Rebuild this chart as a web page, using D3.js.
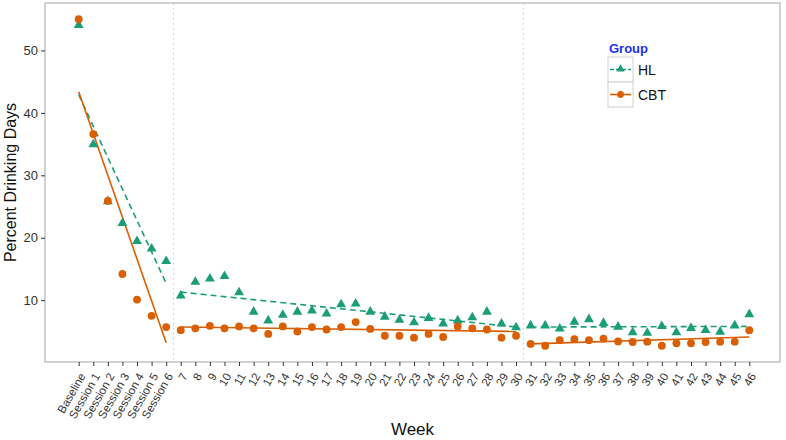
<!DOCTYPE html>
<html>
<head>
<meta charset="UTF-8">
<title>Percent Drinking Days</title>
<script src="https://cdn.jsdelivr.net/npm/d3@7"></script>
<style>
body { margin: 0; background: #fff; }
svg { font-family: "Liberation Sans", Arial, sans-serif; }
</style>
</head>
<body>
<script>
// x categories: baseline, six sessions, then weeks 7..46
var weeks = ["Baseline", "Session 1", "Session 2", "Session 3", "Session 4", "Session 5", "Session 6",
  "7", "8", "9", "10", "11", "12", "13", "14", "15", "16", "17", "18", "19", "20",
  "21", "22", "23", "24", "25", "26", "27", "28", "29", "30",
  "31", "32", "33", "34", "35", "36", "37", "38", "39", "40", "41", "42", "43", "44", "45", "46"];

var hlValues = [54.2, 35.1, 26.0, 22.5, 19.6, 18.4, 16.4,
  10.9, 13.1, 13.6, 14.0, 11.4, 8.3, 6.9, 7.8, 8.3, 8.5, 8.0, 9.5, 9.6, 8.3,
  7.5, 7.0, 6.6, 7.3, 6.4, 6.9, 7.4, 8.3, 6.4, 5.8,
  6.1, 6.1, 5.6, 6.7, 7.1, 6.5, 5.9, 5.0, 4.9, 6.0, 5.0, 5.7, 5.35, 5.1, 6.1, 7.9];

var cbtValues = [55.0, 36.6, 25.9, 14.2, 10.1, 7.5, 5.7,
  5.2, 5.5, 5.9, 5.5, 5.8, 5.5, 4.6, 5.8, 5.0, 5.7, 5.3, 5.7, 6.5, 5.4,
  4.3, 4.3, 4.0, 4.6, 4.1, 5.8, 5.5, 5.3, 4.0, 4.3,
  3.0, 2.7, 3.6, 3.75, 3.6, 3.85, 3.4, 3.3, 3.35, 2.7, 3.1, 3.1, 3.3, 3.35, 3.35, 5.2];

// fitted lines per phase: [first category, last category, start value, end value]
var hlFit = [["Baseline", "Session 6", 42.9, 12.7], ["7", "30", 11.3, 5.7], ["31", "46", 5.7, 5.8]];
var cbtFit = [["Baseline", "Session 6", 43.4, 3.2], ["7", "30", 5.7, 5.0], ["31", "46", 3.0, 4.1]];

// phase breaks sit between these category pairs
var breaks = [["Session 6", "7"], ["30", "31"]];

var yTicks = [10, 20, 30, 40, 50];

var groups = [
  {name: "HL", values: hlValues, fit: hlFit, color: "#1b9e77", dash: "6,4", shape: d3.symbolTriangle},
  {name: "CBT", values: cbtValues, fit: cbtFit, color: "#d95f02", dash: null, shape: d3.symbolCircle}
];

var width = 786, height = 440;
var panelLeft = 45, panelRight = 780, panelTop = 3, panelBottom = 362;

var svg = d3.select("body").append("svg")
    .attr("width", width)
    .attr("height", height);

var x = d3.scalePoint()
    .domain(weeks)
    .range([78.7, 749.3]);

var y = d3.scaleLinear()
    .domain([0.1, 57.6])
    .range([panelBottom, panelTop]);

// phase separators
breaks.forEach(function (b) {
  var bx = (x(b[0]) + x(b[1])) / 2;
  svg.append("line")
      .attr("x1", bx).attr("x2", bx)
      .attr("y1", panelTop).attr("y2", panelBottom)
      .attr("stroke", "#c8c8c8")
      .attr("stroke-width", 1)
      .attr("stroke-dasharray", "1.5,3.5");
});

// fitted lines
groups.forEach(function (g) {
  g.fit.forEach(function (f) {
    svg.append("line")
        .attr("x1", x(f[0])).attr("y1", y(f[2]))
        .attr("x2", x(f[1])).attr("y2", y(f[3]))
        .attr("stroke", g.color)
        .attr("stroke-width", 1.6)
        .attr("stroke-dasharray", g.dash);
  });
});

// points
groups.forEach(function (g) {
  var sym = d3.symbol().type(g.shape).size(g.name == "HL" ? 42 : 48);
  svg.append("g").selectAll("path")
      .data(g.values)
      .enter()
      .append("path")
      .attr("d", sym)
      .attr("transform", function (d, i) {
        var dy = g.name == "HL" ? 1 : 0;
        return "translate(" + x(weeks[i]) + "," + (y(d) + dy) + ")";
      })
      .attr("fill", g.color);
});

// panel border
svg.append("rect")
    .attr("x", panelLeft).attr("y", panelTop)
    .attr("width", panelRight - panelLeft).attr("height", panelBottom - panelTop)
    .attr("fill", "none")
    .attr("stroke", "#b3b3b3")
    .attr("stroke-width", 1.2);

// y axis
var yAxis = svg.append("g")
    .attr("transform", "translate(" + panelLeft + ",0)")
    .call(d3.axisLeft(y).tickValues(yTicks).tickSize(4).tickPadding(3));
yAxis.select(".domain").remove();
yAxis.selectAll(".tick line").attr("stroke", "#333");
yAxis.selectAll("text")
    .attr("font-size", 13)
    .attr("fill", "#333")
    .style("font-family", "'Liberation Sans', Arial, sans-serif");

// x axis
var xAxis = svg.append("g")
    .attr("transform", "translate(0," + panelBottom + ")")
    .call(d3.axisBottom(x).tickSize(4).tickPadding(2));
xAxis.select(".domain").remove();
xAxis.selectAll(".tick line").attr("stroke", "#333");
xAxis.selectAll("text")
    .attr("font-size", 11.5)
    .attr("fill", "#333")
    .style("font-family", "'Liberation Sans', Arial, sans-serif")
    .attr("text-anchor", "end")
    .attr("dy", "0.35em")
    .attr("transform", "translate(-2,9) rotate(-60)");

// axis titles
svg.append("text")
    .attr("x", (panelLeft + panelRight) / 2)
    .attr("y", 435)
    .attr("text-anchor", "middle")
    .attr("font-size", 17)
    .attr("fill", "#111")
    .text("Week");

svg.append("text")
    .attr("transform", "translate(16," + ((panelTop + panelBottom) / 2) + ") rotate(-90)")
    .attr("text-anchor", "middle")
    .attr("font-size", 16)
    .attr("fill", "#111")
    .text("Percent Drinking Days");

// legend
var legend = svg.append("g").attr("transform", "translate(608,57)");
legend.append("text")
    .attr("x", 1).attr("y", -4)
    .attr("font-size", 13)
    .attr("font-weight", "bold")
    .attr("fill", "#2430f5")
    .text("Group");

groups.forEach(function (g, i) {
  var row = legend.append("g").attr("transform", "translate(0," + (i * 25) + ")");
  row.append("rect")
      .attr("x", 0).attr("y", 0)
      .attr("width", 25).attr("height", 25)
      .attr("fill", "#fff")
      .attr("stroke", "#d0d0d0");
  row.append("line")
      .attr("x1", 2).attr("x2", 23)
      .attr("y1", 12.5).attr("y2", 12.5)
      .attr("stroke", g.color)
      .attr("stroke-width", 1.6)
      .attr("stroke-dasharray", g.dash ? "4,2" : null);
  row.append("path")
      .attr("d", d3.symbol().type(g.shape).size(g.name == "HL" ? 30 : 36))
      .attr("transform", "translate(12.5," + (g.name == "HL" ? 12 : 12.5) + ")")
      .attr("fill", g.color);
  row.append("text")
      .attr("x", 30).attr("y", 17.5)
      .attr("font-size", 14)
      .attr("fill", "#111")
      .text(g.name);
});
</script>
</body>
</html>
